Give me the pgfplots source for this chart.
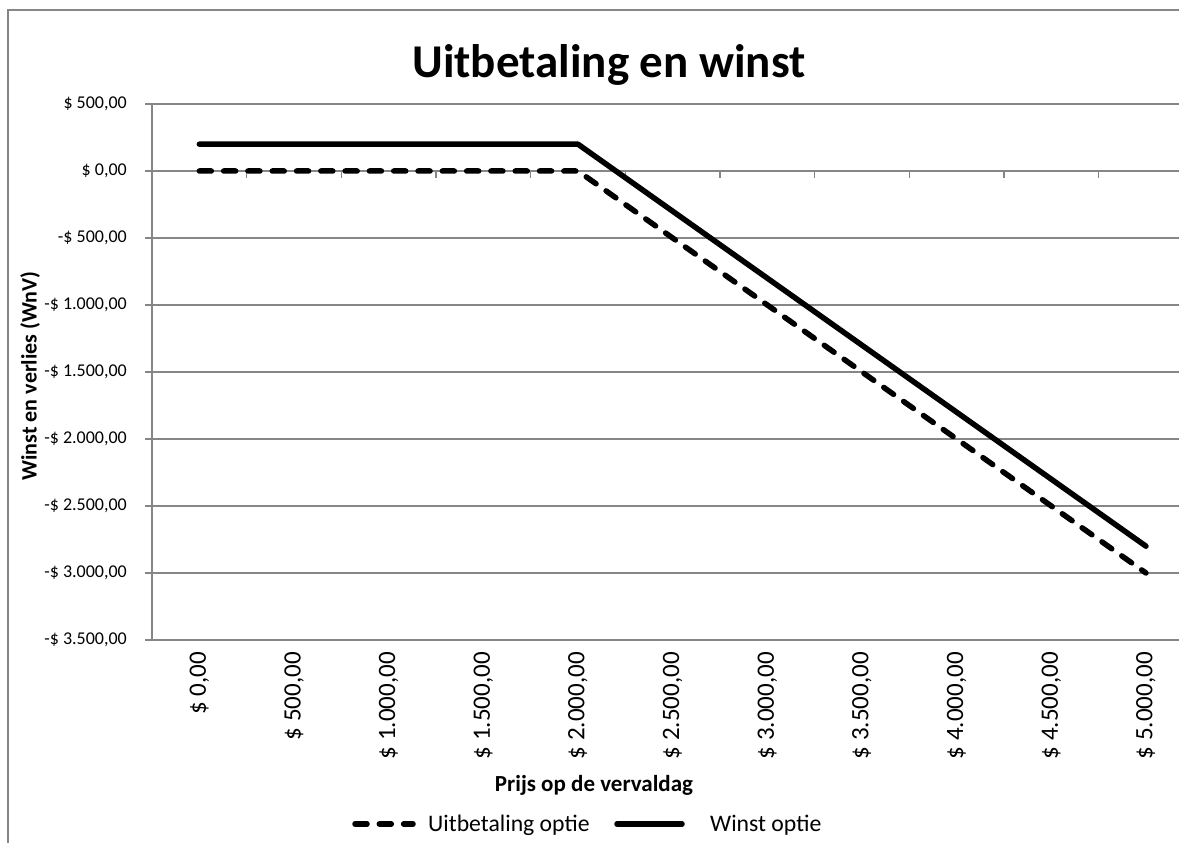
\documentclass[border=0pt]{standalone}
\usepackage{pgfplots}
\pgfplotsset{compat=1.18}
\usepackage{fontspec}
\setmainfont{Carlito}
\definecolor{gridgray}{RGB}{134,134,134}
\begin{document}
\begin{tikzpicture}[x=1pt,y=1pt]
\useasboundingbox (0,0) rectangle (1179,843);
\clip (0,0) rectangle (1179,843);
\fill[white] (0,0) rectangle (1179,843);
\draw[gridgray, line width=2pt] (8,-10) -- (8,833) -- (1190,833);
\begin{axis}[
 at={(152pt,203pt)}, anchor=south west,
 scale only axis, width=1041.3pt, height=536pt,
 xmin=-0.5, xmax=10.5, ymin=-3500, ymax=500,
 separate axis lines,
 x axis line style={draw=none},
 y axis line style={gridgray, line width=1.5pt},
 ymajorgrids, grid style={gridgray, line width=1.5pt},
 ytick={-3500,-3000,...,500},
 yticklabels={{-\$ 3.500,00},{-\$ 3.000,00},{-\$ 2.500,00},{-\$ 2.000,00},{-\$ 1.500,00},{-\$ 1.000,00},{-\$ 500,00},{\$ 0,00},{\$ 500,00}},
 ytick pos=left, tick align=outside,
 ytick style={gridgray, line width=1.5pt},
 major tick length=7pt,
 xtick={0,...,10},
 xticklabels={{\$ 0,00},{\$ 500,00},{\$ 1.000,00},{\$ 1.500,00},{\$ 2.000,00},{\$ 2.500,00},{\$ 3.000,00},{\$ 3.500,00},{\$ 4.000,00},{\$ 4.500,00},{\$ 5.000,00}},
 xtick style={draw=none},
 xticklabel pos=lower,
 yticklabel style={font=\fontsize{18}{22}\selectfont, anchor=east, inner sep=0pt, xshift=-18pt},
 xticklabel style={font=\fontsize{25}{30}\selectfont, yshift=-5pt, rotate=90, anchor=east, inner sep=0pt},
 clip=false,
]
\pgfplotsinvokeforeach{0,...,9}{
  \draw[gridgray, line width=1.5pt] (axis cs:#1.5,0) -- ++(0pt,-7pt);
}
\addplot[black, line width=5.5pt, dash pattern=on 12pt off 12.3pt, line cap=round, line join=round] coordinates {
 (0,0) (1,0) (2,0) (3,0) (4,0) (5,-500) (6,-1000) (7,-1500) (8,-2000) (9,-2500) (10,-3000)};
\addplot[black, line width=5.5pt, line cap=round, line join=round] coordinates {
 (0,200) (1,200) (2,200) (3,200) (4,200) (5,-300) (6,-800) (7,-1300) (8,-1800) (9,-2300) (10,-2800)};
\end{axis}
\node[font=\fontsize{47}{56}\bfseries\selectfont, anchor=base] at (609,765) {Uitbetaling en winst};
\node[font=\fontsize{23}{28}\bfseries\selectfont, anchor=base] at (594,51) {Prijs op de vervaldag};
\node[font=\fontsize{22}{27}\bfseries\selectfont, rotate=90, anchor=center] at (30,467) {Winst en verlies (WnV)};
% legend
\draw[black, line width=5.5pt, dash pattern=on 12pt off 12.3pt, line cap=round] (355,19) -- (413,19);
\node[font=\fontsize{23.7}{28}\selectfont, anchor=base west, inner sep=0pt] at (428,11) {Uitbetaling optie};
\draw[black, line width=5.5pt, line cap=round] (617,19) -- (682,19);
\node[font=\fontsize{23.7}{28}\selectfont, anchor=base west, inner sep=0pt] at (710,11) {Winst optie};
\end{tikzpicture}
\end{document}
